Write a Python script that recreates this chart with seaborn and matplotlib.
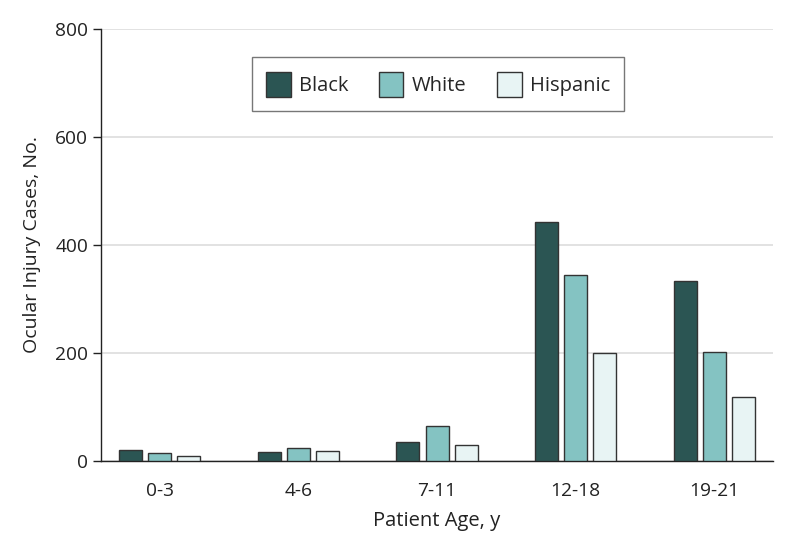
import matplotlib
matplotlib.use("Agg")
import matplotlib.pyplot as plt
import seaborn as sns
import pandas as pd

ages = ["0-3", "4-6", "7-11", "12-18", "19-21"]
groups = ["Black", "White", "Hispanic"]
black = [20, 17, 35, 443, 333]
white = [14, 23, 64, 344, 202]
hispanic = [9, 18, 30, 200, 119]
yticks = [0, 200, 400, 600, 800]

colors = ["#2b5553", "#84c3c2", "#e8f4f4"]

rows = []
for g, vals in zip(groups, [black, white, hispanic]):
    for a, v in zip(ages, vals):
        rows.append({"Age": a, "Group": g, "Cases": v})
df = pd.DataFrame(rows)

sns.set_theme(style="white")
plt.rcParams['font.family'] = ['Open Sans', 'DejaVu Sans']

fig = plt.figure(figsize=(7.94, 5.46), dpi=100)
ax = fig.add_axes([0.127, 0.156, 0.847, 0.791])

sns.barplot(data=df, x="Age", y="Cases", hue="Group", order=ages, hue_order=groups,
            palette=colors, saturation=1, width=0.63, gap=0.21, edgecolor="#333333",
            linewidth=1.0, ax=ax, errorbar=None, zorder=3)

ax.set_ylim(0, 800)
ax.set_xlim(-0.425, 4.425)
ax.set_yticks(yticks)
ax.yaxis.grid(True, color="#dddddd", linewidth=1.2, zorder=0)
ax.set_axisbelow(True)
for s in ["top", "right"]:
    ax.spines[s].set_visible(False)
for s in ["left", "bottom"]:
    ax.spines[s].set_color("#222222")
    ax.spines[s].set_linewidth(1.0)
ax.tick_params(axis="y", which="both", left=True, length=6, width=1.0, color="#222222",
               labelsize=13.8, labelcolor="#222222", pad=3)
ax.tick_params(axis="x", bottom=False, labelsize=13.8, labelcolor="#222222", pad=9)
ax.set_xlabel("Patient Age, y", fontsize=14.5, color="#222222", labelpad=8)
ax.set_ylabel("Ocular Injury Cases, No.", fontsize=14, color="#222222", labelpad=10)

leg = ax.legend(loc="upper center", bbox_to_anchor=(0.5015, 0.935), ncol=3, frameon=True,
                fancybox=False, edgecolor="#555555", fontsize=14.5, handlelength=1.2,
                handleheight=1.54, columnspacing=1.55, handletextpad=0.4,
                borderpad=0.72, borderaxespad=0, title=None)
leg.get_frame().set_linewidth(1.0)
for h in leg.legend_handles:
    h.set_edgecolor("#333333")
    h.set_linewidth(1.0)

fig.savefig("out.png", dpi=100)
